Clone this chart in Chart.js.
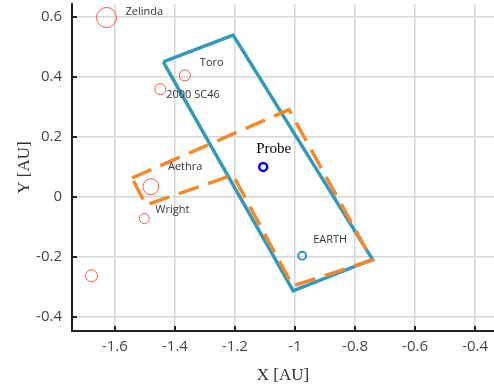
<!DOCTYPE html>
<html>
<head>
<meta charset="utf-8">
<script src="https://cdn.jsdelivr.net/npm/chart.js@4/dist/chart.umd.min.js"></script>
<style>
  html, body { margin: 0; padding: 0; background: #fff; }
  #wrap { width: 494px; height: 388px; }
</style>
</head>
<body>
<div id="wrap"><canvas id="orbitChart"></canvas></div>
<script>
// Small bodies (hollow red circles)
const bodyNames = ['Zelinda', 'Toro', '2000 SC46', 'Aethra', 'Wright', ''];
const bodyX = [-1.628, -1.367, -1.449, -1.480, -1.502, -1.678];
const bodyY = [0.597, 0.404, 0.358, 0.033, -0.073, -0.264];
const bodySize = [10, 5.5, 5.5, 8, 5, 6];

// Probe and Earth
const probeXY = [-1.106, 0.099];
const earthXY = [-0.976, -0.197];

// Solid teal footprint
const tealX = [-1.439, -1.206, -0.742, -1.006, -1.439];
const tealY = [0.449, 0.538, -0.209, -0.314, 0.449];

// Dashed orange footprint
const orangeX = [-1.543, -1.020, -0.743, -1.007, -1.207, -1.497, -1.543];
const orangeY = [0.062, 0.290, -0.212, -0.298, 0.072, -0.028, 0.062];

// Axis ticks
const xTicks = [-1.6, -1.4, -1.2, -1, -0.8, -0.6, -0.4];
const xTickLabels = ['-1.6', '-1.4', '-1.2', '-1', '-0.8', '-0.6', '-0.4'];
const yTicks = [-0.4, -0.2, 0, 0.2, 0.4, 0.6];
const yTickLabels = ['-0.4', '-0.2', '0', '0.2', '0.4', '0.6'];

const toPts = (xs, ys) => xs.map((x, i) => ({ x: x, y: ys[i] }));

// pixel offsets for the text labels
const labelOffsets = {
    'Zelinda': [19, -6], 'Toro': [15, -13], '2000 SC46': [6, 6],
    'Aethra': [17, -20], 'Wright': [11, -9]
};

const innerTicks = {
    id: 'innerTicks',
    afterDraw(chart) {
        const { ctx, chartArea, scales } = chart;
        ctx.save();
        ctx.strokeStyle = '#222';
        ctx.lineWidth = 2;
        xTicks.forEach(v => {
            const px = Math.round(scales.x.getPixelForValue(v));
            ctx.beginPath();
            ctx.moveTo(px, chartArea.bottom);
            ctx.lineTo(px, chartArea.bottom - 5);
            ctx.stroke();
        });
        yTicks.forEach(v => {
            const py = Math.round(scales.y.getPixelForValue(v));
            ctx.beginPath();
            ctx.moveTo(chartArea.left, py);
            ctx.lineTo(chartArea.left + 5, py);
            ctx.stroke();
        });
        ctx.restore();
    }
};

const bodyLabels = {
    id: 'bodyLabels',
    afterDatasetsDraw(chart) {
        const { ctx, scales } = chart;
        ctx.save();
        ctx.textBaseline = 'middle';
        ctx.textAlign = 'left';
        ctx.fillStyle = '#333';
        ctx.font = '11px "Open Sans"';
        bodyNames.forEach((name, i) => {
            if (!name) return;
            const off = labelOffsets[name];
            ctx.fillText(name, scales.x.getPixelForValue(bodyX[i]) + off[0],
                scales.y.getPixelForValue(bodyY[i]) + off[1]);
        });
        ctx.fillText('EARTH', scales.x.getPixelForValue(earthXY[0]) + 11,
            scales.y.getPixelForValue(earthXY[1]) - 16);
        ctx.fillStyle = '#000';
        ctx.font = '15px "Liberation Serif"';
        ctx.fillText('Probe', scales.x.getPixelForValue(probeXY[0]) - 7,
            scales.y.getPixelForValue(probeXY[1]) - 18);
        ctx.restore();
    }
};

const noOverhang = scale => {
    scale.paddingLeft = 0;
    scale.paddingRight = 0;
    scale.paddingTop = 0;
    scale.paddingBottom = 0;
};

const gridStyle = { color: '#d6d6d6', lineWidth: 1.5, drawTicks: false };
const tickFont = { family: '"Open Sans"', size: 15 };
const titleFont = { family: '"Liberation Serif"', size: 17 };

new Chart(document.getElementById('orbitChart'), {
    type: 'scatter',
    data: {
        datasets: [
            {
                data: toPts(orangeX, orangeY),
                showLine: true,
                borderColor: '#f5882a',
                borderWidth: 3.5,
                borderDash: [21, 10],
                pointRadius: 0,
                fill: false
            },
            {
                data: toPts(tealX, tealY),
                showLine: true,
                borderColor: '#3399bb',
                borderWidth: 3.5,
                pointRadius: 0,
                fill: false
            },
            {
                data: toPts(bodyX, bodyY),
                pointRadius: bodySize,
                borderColor: '#ff4f4f',
                borderWidth: 1,
                backgroundColor: 'rgba(0,0,0,0)'
            },
            {
                data: [{ x: earthXY[0], y: earthXY[1] }],
                pointRadius: 4,
                borderColor: '#2e9ab5',
                borderWidth: 2,
                backgroundColor: 'rgba(0,0,0,0)'
            },
            {
                data: [{ x: probeXY[0], y: probeXY[1] }],
                pointRadius: 4,
                borderColor: '#0000ff',
                borderWidth: 2.5,
                backgroundColor: 'rgba(0,0,0,0)'
            }
        ]
    },
    options: {
        responsive: true,
        maintainAspectRatio: false,
        animation: false,
        layout: { autoPadding: false, padding: { top: 4, right: 0, left: 0, bottom: 0 } },
        plugins: { legend: { display: false }, tooltip: { enabled: false } },
        scales: {
            x: {
                type: 'linear',
                min: -1.743,
                max: -0.337,
                grid: gridStyle,
                border: { color: '#222', width: 2 },
                afterBuildTicks: scale => { scale.ticks = xTicks.map(v => ({ value: v })); },
                afterFit: scale => { scale.height = 57; noOverhang(scale); },
                ticks: {
                    font: tickFont,
                    color: '#444',
                    padding: 7,
                    maxRotation: 0,
                    callback: (v, i) => xTickLabels[i]
                },
                title: {
                    display: true,
                    text: 'X [AU]',
                    font: titleFont,
                    color: '#333',
                    padding: { top: 0, bottom: 2 }
                }
            },
            y: {
                type: 'linear',
                min: -0.448,
                max: 0.642,
                grid: gridStyle,
                border: { color: '#222', width: 2 },
                afterBuildTicks: scale => { scale.ticks = yTicks.map(v => ({ value: v })); },
                afterFit: scale => { scale.width = 72; noOverhang(scale); },
                ticks: {
                    font: tickFont,
                    color: '#444',
                    padding: 10,
                    callback: (v, i) => yTickLabels[i]
                },
                title: {
                    display: true,
                    text: 'Y [AU]',
                    font: titleFont,
                    color: '#333',
                    padding: { top: 14, bottom: 0 }
                }
            }
        }
    },
    plugins: [innerTicks, bodyLabels]
});
</script>
</body>
</html>
